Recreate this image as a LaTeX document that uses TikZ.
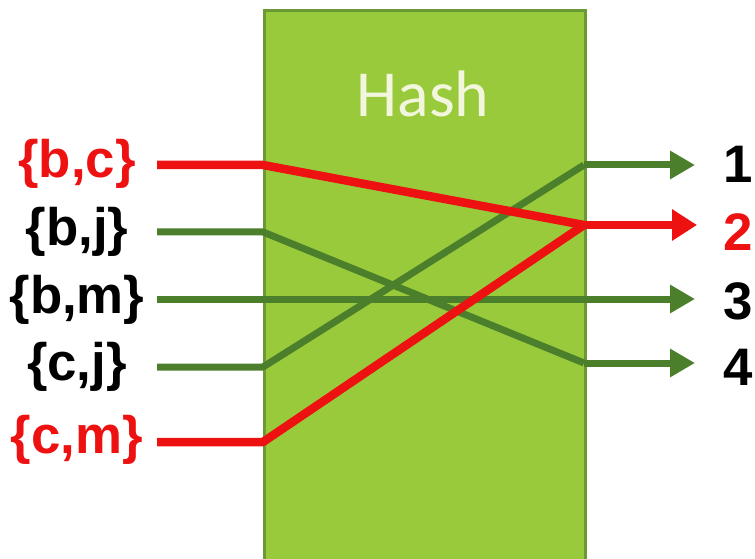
\documentclass[tikz,border=0pt]{standalone}
\usepackage{fontspec}
\setmainfont{Liberation Sans}
\newfontfamily\hashfont{Carlito}
\usetikzlibrary{arrows.meta}
\definecolor{boxfill}{HTML}{99CA3C}
\definecolor{boxedge}{HTML}{6B9A35}
\definecolor{wire}{HTML}{4C7F2B}
\definecolor{hot}{HTML}{EE1111}
\definecolor{hashtxt}{HTML}{F2F6DC}
\tikzset{
  lbl/.style={font=\fontsize{53}{60}\selectfont\bfseries, inner sep=0pt, anchor=center},
  gwire/.style={draw=wire, line width=7bp, line join=round},
  rwire/.style={draw=hot, line width=8.5bp, line join=round},
  garrow/.style={gwire, -{Triangle[length=25bp, width=27bp]}},
  rarrow/.style={rwire, -{Triangle[length=25bp, width=30bp]}},
}
\begin{document}
\begin{tikzpicture}[x=1bp, y=-1bp]
\useasboundingbox (0,0) rectangle (755,559);
\fill[white] (0,0) rectangle (755,559);
% hash box
\node[draw=boxedge, fill=boxfill, line width=3bp, minimum width=321bp, minimum height=560bp, inner sep=0pt, anchor=north west] (box) at (263,9) {};
\node[font=\hashfont\fontsize{66}{70}\selectfont, text=hashtxt, inner sep=0pt] (hash) at (423,94) {Hash};
% left labels
\node[lbl, text=hot] (bc) at (77,164) {\{b,c\}};
\node[lbl] (bj) at (77,232) {\{b,j\}};
\node[lbl] (bm) at (77,300) {\{b,m\}};
\node[lbl] (cj) at (77,367) {\{c,j\}};
\node[lbl, text=hot] (cm) at (77,440) {\{c,m\}};
% right labels
\node[lbl] (o1) at (738,164) {1};
\node[lbl, text=hot] (o2) at (738,232) {2};
\node[lbl] (o3) at (738,301) {3};
\node[lbl] (o4) at (738,367) {4};
% wire points
\coordinate (sbc) at (157,165); \coordinate (ibc) at (263,165);
\coordinate (sbj) at (157,232); \coordinate (ibj) at (263,232);
\coordinate (sbm) at (157,299);
\coordinate (scj) at (157,367); \coordinate (icj) at (263,367);
\coordinate (scm) at (157,442); \coordinate (icm) at (263,442);
\coordinate (r1) at (584,165); \coordinate (e1) at (695,165);
\coordinate (r2) at (584,225); \coordinate (e2) at (697,225);
\coordinate (r3) at (584,299); \coordinate (e3) at (695,299);
\coordinate (r4) at (584,363); \coordinate (e4) at (695,363);
% green wires
\draw[gwire] (sbj) -- (ibj) -- (r4);
\draw[garrow] (r4) -- (e4);
\draw[garrow] (sbm) -- (e3);
\draw[gwire] (scj) -- (icj) -- (r1);
\draw[garrow] (r1) -- (e1);
% red wires
\draw[rwire] (scm) -- (icm) -- (r2);
\draw[rwire] (sbc) -- (ibc) -- (r2);
\draw[rarrow] (r2) -- (e2);
\end{tikzpicture}
\end{document}
